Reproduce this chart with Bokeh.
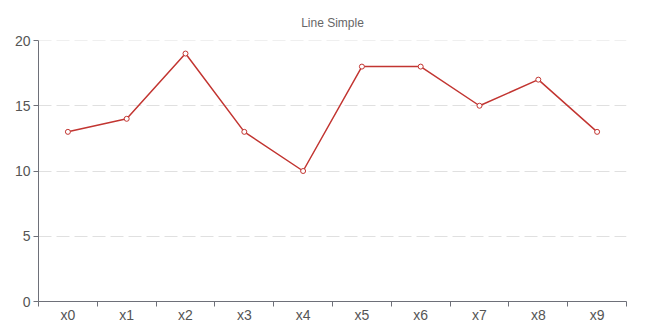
import numpy as np
from bokeh.plotting import figure
from bokeh.models import FixedTicker, Range1d, Title, Span
from bokeh.embed import file_html
from bokeh.resources import INLINE

title_text = "Line Simple"
categories = ["x0", "x1", "x2", "x3", "x4", "x5", "x6", "x7", "x8", "x9"]
values = [13, 14, 19, 13, 10, 18, 18, 15, 17, 13]
y_ticks = [0, 5, 10, 15, 20]

xs = np.arange(len(categories)) + 0.5

p = figure(width=650, height=325, output_backend="svg", toolbar_location=None,
           x_range=Range1d(0, len(categories)), y_range=Range1d(0, 20),
           min_border_left=38, min_border_right=24, min_border_top=40, min_border_bottom=24)
p.title = Title(text=title_text, align="center", text_font="Liberation Sans",
                text_font_size="12px", text_font_style="normal", text_color="#666666",
                offset=0, standoff=22)
p.outline_line_color = None
p.background_fill_color = "white"
p.border_fill_color = "white"

p.add_layout(Span(location=y_ticks[-1], dimension="width", line_color="#e0e0e0",
                  line_dash="13 5", line_width=1))

p.line(xs, values, line_color="#c23531", line_width=1.5)
p.scatter(xs, values, size=5, fill_color="white", line_color="#c23531", line_width=1)

# x axis
p.xaxis.ticker = FixedTicker(ticks=list(xs), minor_ticks=list(range(len(categories) + 1)))
p.xaxis.major_label_overrides = {float(x): c for x, c in zip(xs, categories)}
p.xaxis.major_tick_line_color = None
p.xaxis.major_tick_in = 0
p.xaxis.major_tick_out = 0
p.xaxis.minor_tick_in = 0
p.xaxis.minor_tick_out = 5
p.xaxis.minor_tick_line_color = "#6e7079"
p.xaxis.axis_line_color = "#6e7079"
p.xaxis.major_label_text_font = "Liberation Sans"
p.xaxis.major_label_text_font_size = "14px"
p.xaxis.major_label_text_color = "#555555"
p.xaxis.major_label_standoff = 0
p.xgrid.visible = False

# y axis
p.yaxis.ticker = FixedTicker(ticks=y_ticks)
p.yaxis.minor_tick_line_color = None
p.yaxis.major_tick_in = 0
p.yaxis.major_tick_out = 5
p.yaxis.major_tick_line_color = "#6e7079"
p.yaxis.axis_line_color = "#6e7079"
p.yaxis.major_label_text_font = "Liberation Sans"
p.yaxis.major_label_text_font_size = "14px"
p.yaxis.major_label_text_color = "#555555"
p.yaxis.major_label_standoff = 3
p.ygrid.ticker = FixedTicker(ticks=y_ticks[1:])
p.ygrid.grid_line_color = "#e0e0e0"
p.ygrid.grid_line_dash = "13 5"
p.ygrid.grid_line_width = 1

open("out.html", "w").write(file_html(p, INLINE))
